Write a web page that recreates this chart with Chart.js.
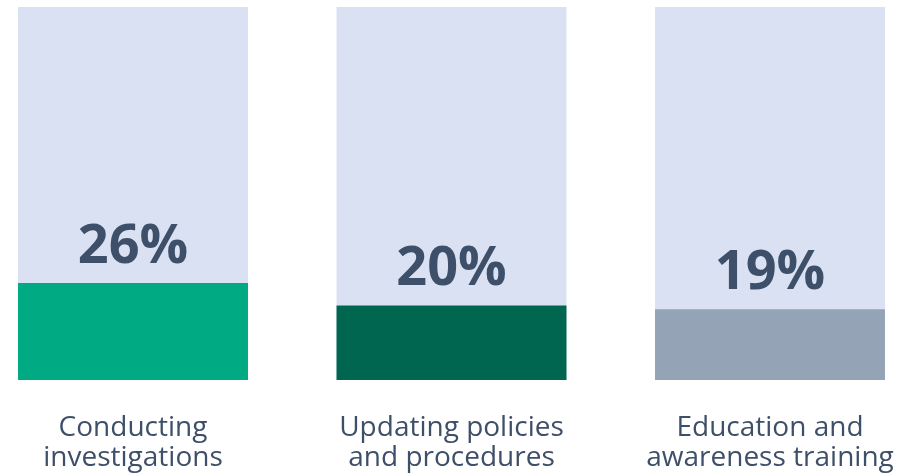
<!DOCTYPE html>
<html>
<head>
<meta charset="utf-8">
<script src="https://cdn.jsdelivr.net/npm/chart.js@4.4.1/dist/chart.umd.min.js"></script>
<style>
  html, body { margin: 0; padding: 0; background: #fff; }
  #chart { display: block; }
</style>
</head>
<body>
<canvas id="chart" width="909" height="475"></canvas>
<script>
// data
const categories = [
    ['Conducting', 'investigations'],
    ['Updating policies', 'and procedures'],
    ['Education and', 'awareness training']
];
const shares = [26, 20, 19];
const fullScale = [100, 100, 100];
const barColors = ['#00ab84', '#00664f', '#94a3b5'];

const textColor = '#3e5069';

// writes "26%" etc just above the top of each coloured bar
const valueLabels = {
    id: 'valueLabels',
    afterDatasetsDraw(chart) {
        const ctx = chart.ctx;
        const meta = chart.getDatasetMeta(0);
        ctx.save();
        ctx.font = 'bold 54px "Open Sans"';
        ctx.fillStyle = textColor;
        ctx.textAlign = 'center';
        ctx.textBaseline = 'alphabetic';
        meta.data.forEach((bar, i) => {
            ctx.fillText(shares[i] + '%', bar.x, bar.y - 20);
        });
        ctx.restore();
    }
};

const ctx = document.getElementById('chart').getContext('2d');

new Chart(ctx, {
    type: 'bar',
    data: {
        labels: categories,
        datasets: [
            {
                label: 'Share',
                data: shares,
                backgroundColor: barColors,
                grouped: false,
                order: 1,
                clip: false,
                barPercentage: 1,
                categoryPercentage: 0.722
            },
            {
                label: 'Scale',
                data: fullScale,
                backgroundColor: '#dae1f2',
                grouped: false,
                order: 2,
                clip: false,
                barPercentage: 1,
                categoryPercentage: 0.722
            }
        ]
    },
    options: {
        responsive: false,
        animation: false,
        layout: {
            padding: { left: 133, right: 139, top: 7, bottom: 0 }
        },
        scales: {
            x: {
                offset: false,
                grid: { display: false, drawTicks: false },
                border: { display: false },
                afterFit(axis) {
                    // keep the layout padding as set, labels may overhang
                    axis.height = 95;
                    axis.paddingLeft = 0;
                    axis.paddingRight = 0;
                },
                ticks: {
                    color: textColor,
                    padding: 33,
                    maxRotation: 0,
                    autoSkip: false,
                    font: { family: '"Open Sans"', size: 28, lineHeight: 1.08 }
                }
            },
            y: {
                display: false,
                min: 0,
                max: 100
            }
        },
        plugins: {
            legend: { display: false },
            tooltip: { enabled: false }
        }
    },
    plugins: [valueLabels]
});
</script>
</body>
</html>
